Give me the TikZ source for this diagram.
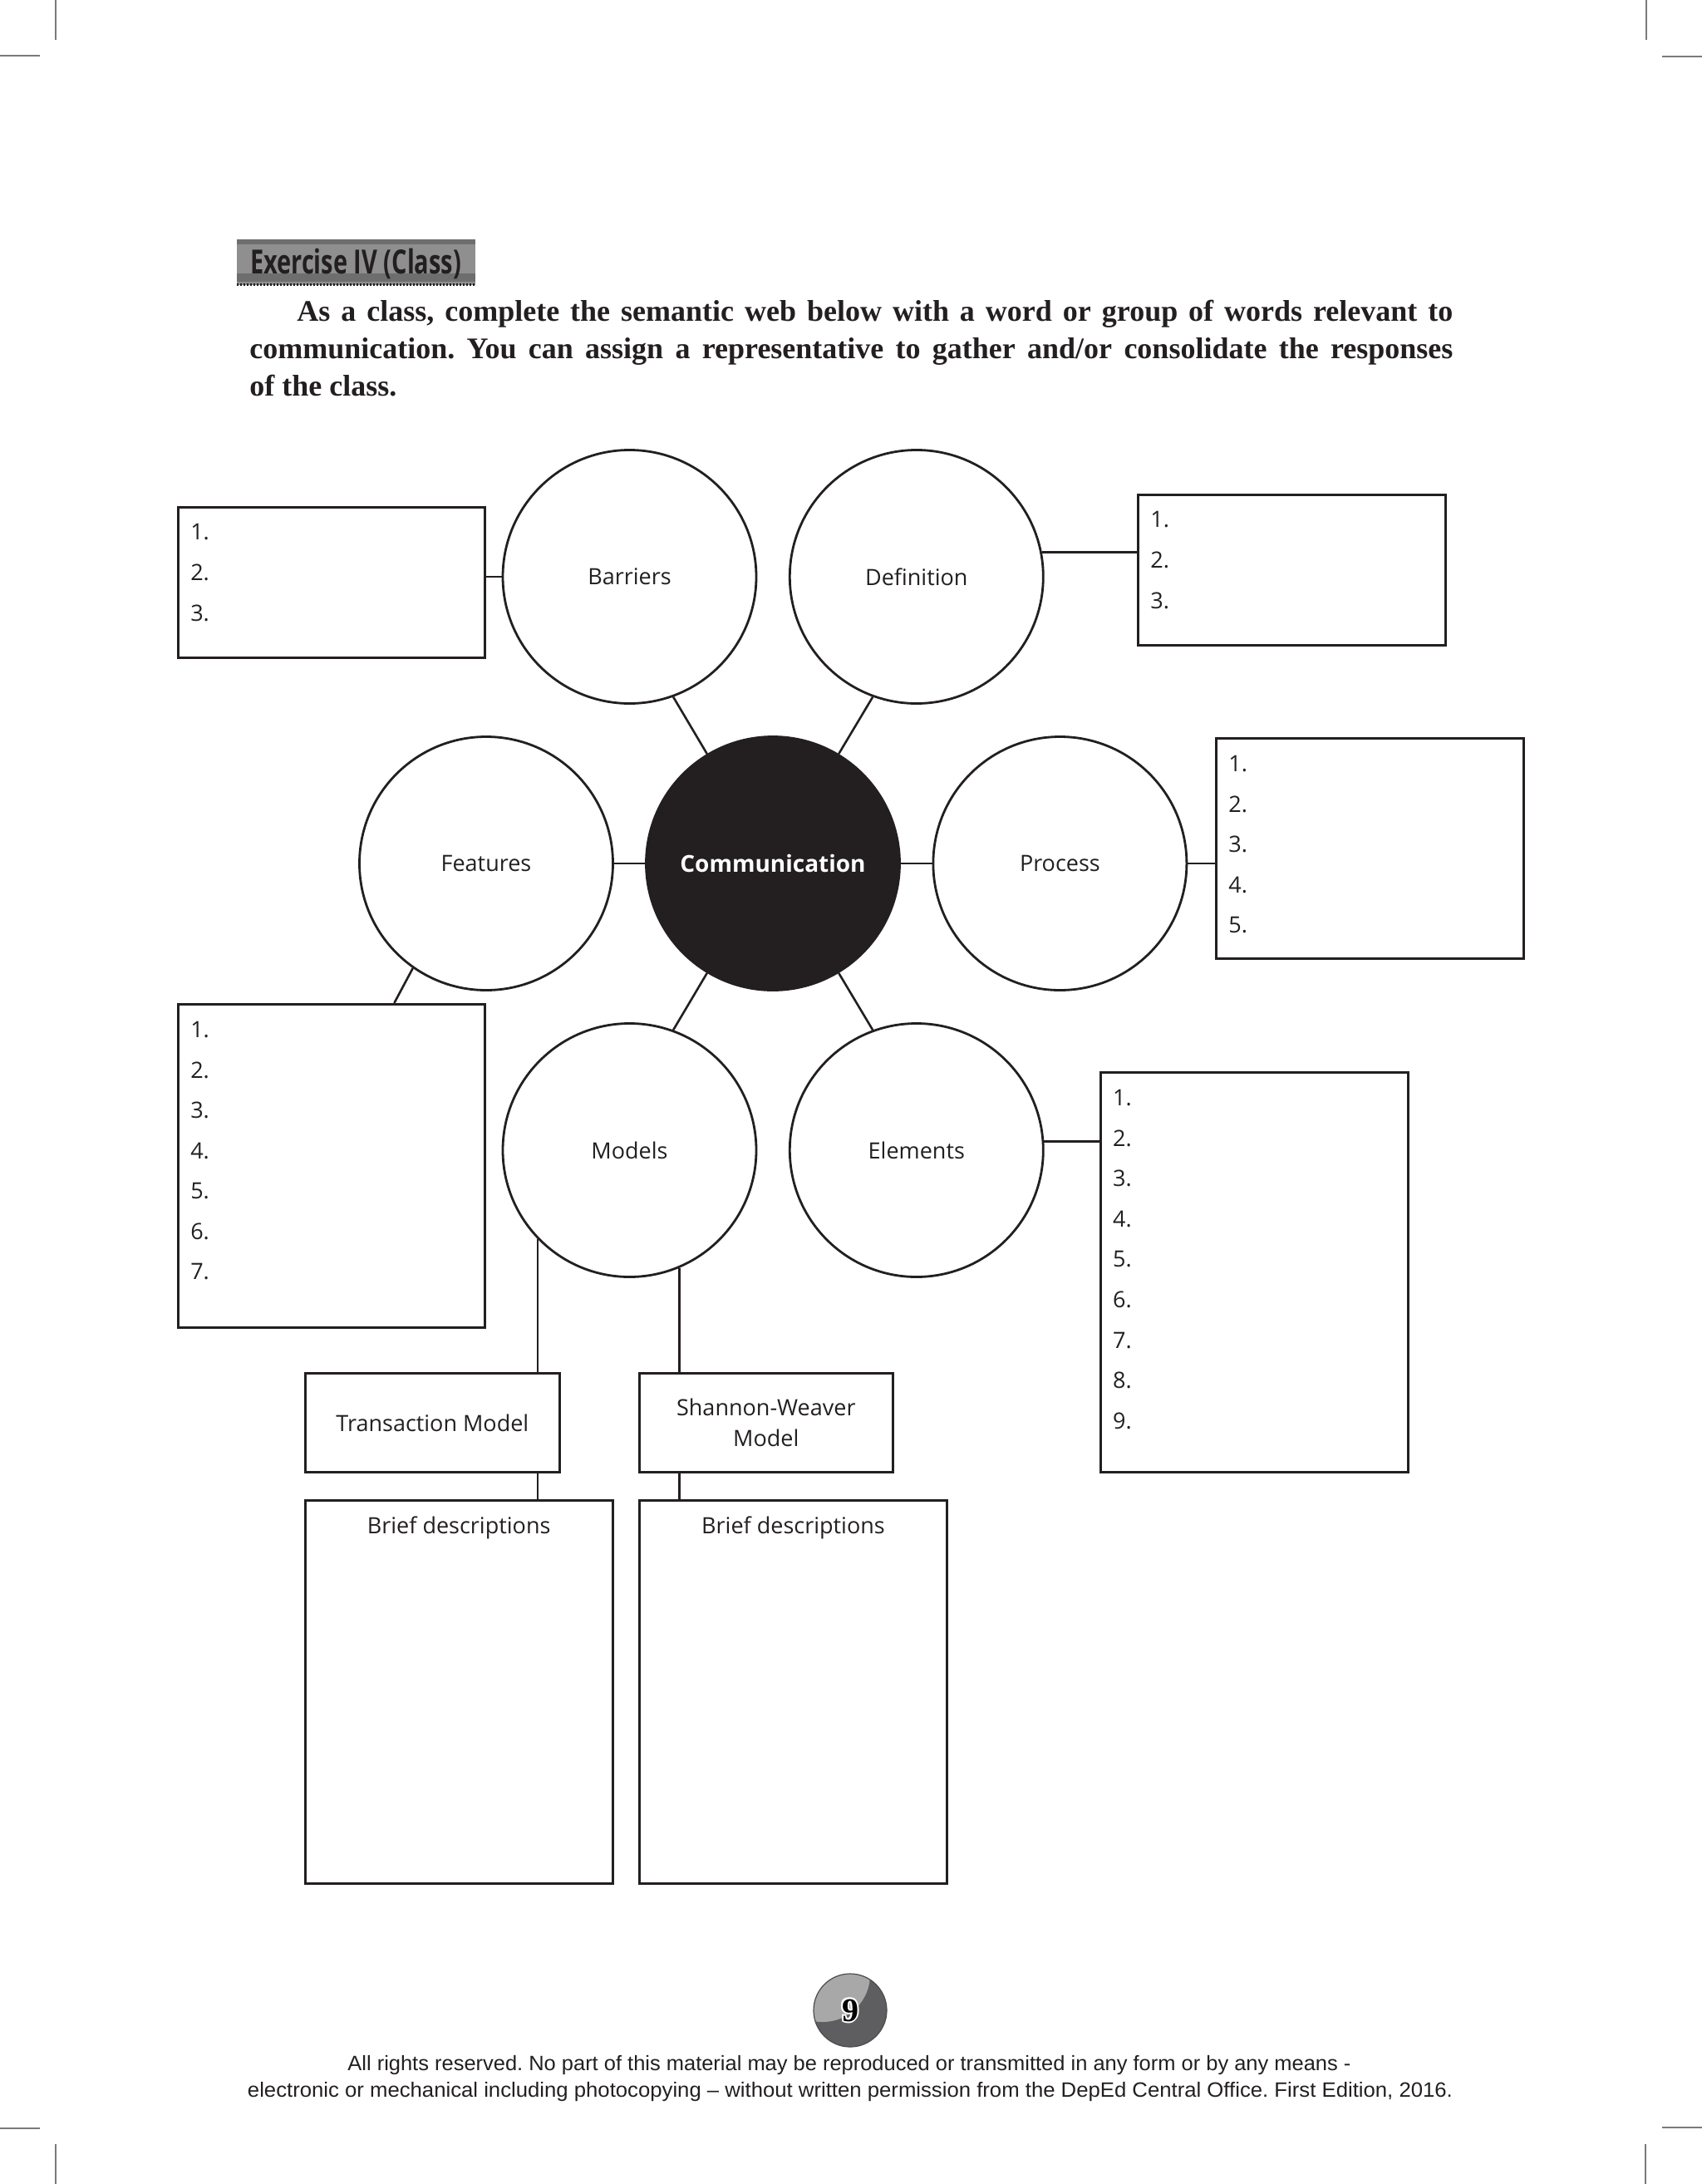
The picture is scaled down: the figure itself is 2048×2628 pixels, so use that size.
\documentclass[tikz,border=0pt]{standalone}
\usepackage{fontspec}
\usepackage{graphicx}
\setmainfont{Open Sans}
\newfontfamily\serifbody{Liberation Serif}
\newfontfamily\footfont{Liberation Sans}
\definecolor{ink}{HTML}{231F20}
\definecolor{hdrmain}{HTML}{8F8F8F}
\definecolor{hdrdark}{HTML}{6E6E6E}
\definecolor{pgdark}{HTML}{5E5E60}
\definecolor{pglight}{HTML}{A8A8A8}
\definecolor{cropc}{HTML}{7A7A7A}
\begin{document}
\frenchspacing
\begin{tikzpicture}[x=0.5pt,y=-0.5pt,
  bubble/.style={circle, draw=ink, line width=1.4pt, minimum size=152.5pt, inner sep=0pt,
                 font=\fontsize{13.5}{16}\selectfont, text=ink},
  hub/.style={bubble, fill=ink, text=white, font=\fontsize{14}{16}\selectfont\bfseries},
  box/.style={draw=ink, line width=1.5pt, rectangle, inner sep=0pt,
              font=\fontsize{13.5}{18.5}\selectfont, text=ink},
  link/.style={draw=ink, line width=1.3pt},
  num/.style={anchor=west, inner sep=0pt, font=\fontsize{13.5}{16}\selectfont, text=ink},
  lbl/.style={inner sep=0pt, font=\fontsize{13.5}{16}\selectfont, text=ink},
  bodyline/.style={anchor=base west, inner sep=0pt,
                   font=\serifbody\bfseries\fontsize{18}{22.5}\selectfont, text=ink},
  footline/.style={inner sep=0pt, font=\footfont\fontsize{12.5}{14}\selectfont, text=ink},
  crop/.style={draw=cropc, line width=1pt},
]
\useasboundingbox (0,0) rectangle (2048,2628);

% crop marks
\draw[crop] (67,0) -- (67,48);
\draw[crop] (0,67) -- (48,67);
\draw[crop] (1981,0) -- (1981,48);
\draw[crop] (2000,68) -- (2048,68);
\draw[crop] (67,2580) -- (67,2628);
\draw[crop] (0,2561) -- (48,2561);
\draw[crop] (1980,2580) -- (1980,2628);
\draw[crop] (2000,2560) -- (2048,2560);

% header
\fill[hdrmain] (285,288) rectangle (571.5,343);
\fill[hdrdark] (285,288) rectangle (571.5,294);
\fill[hdrdark] (285,329) rectangle (571.5,339);
\draw[ink, line width=1.5pt, dash pattern=on 1pt off 1pt] (285,342) -- (571.5,342);
\node[inner sep=0pt, text=ink, font=\fontsize{20}{22}\selectfont\bfseries] (hdr) at (428,317)
  {\resizebox{127pt}{\height}{Exercise IV (Class)}};

% instruction text
\node[bodyline] (p1) at (357,386)
  {\makebox[695.5pt][s]{As a class, complete the semantic web below with a word or group of words relevant to}};
\node[bodyline] (p2) at (300,431)
  {\makebox[724pt][s]{communication. You can assign a representative to gather and/or consolidate the responses}};
\node[bodyline] (p3) at (300,476) {of the class.};

% bubbles
\node[bubble] (barr) at (757.5,694) {Barriers};
\node[bubble] (defn) at (1102.8,694) {Definition};
\node[bubble] (feat) at (585,1039) {Features};
\node[hub]    (comm) at (930,1039) {Communication};
\node[bubble] (proc) at (1275.4,1039) {Process};
\node[bubble] (modl) at (757.5,1384) {Models};
\node[bubble] (elem) at (1102.8,1384) {Elements};

% boxes
\node[box, minimum width=184.5pt, minimum height=90.5pt] (bB) at (398.9,700.5) {};
\node[box, minimum width=185pt, minimum height=90.5pt] (bD) at (1554.5,685.5) {};
\node[box, minimum width=185pt, minimum height=132.3pt] (bP) at (1648.4,1020.7) {};
\node[box, minimum width=184.5pt, minimum height=194.4pt] (bF) at (398.9,1402.8) {};
\node[box, minimum width=185pt, minimum height=240.5pt] (bE) at (1509.2,1531) {};
\node[box, minimum width=153.4pt, minimum height=59.5pt] (tm) at (520.4,1712) {Transaction Model};
\node[box, minimum width=152.5pt, minimum height=59.5pt, align=center] (sw) at (921.8,1712) {Shannon-Weaver\\Model};
\node[box, minimum width=185.2pt, minimum height=230.5pt] (bd1) at (552.2,2035.5) {};
\node[box, minimum width=185.2pt, minimum height=230.5pt] (bd2) at (954.5,2035.5) {};
\node[lbl] (bdt1) at ([yshift=-17.5pt]bd1.north) {Brief descriptions};
\node[lbl] (bdt2) at ([yshift=-17.5pt]bd2.north) {Brief descriptions};

% numbered lines
\foreach \b/\n in {bB/3, bD/3, bP/5, bF/7, bE/9} {
  \foreach \i in {1,...,\n}
    \node[num] (\b-\i) at ([xshift=8pt, yshift={-16pt-(\i-1)*24.3pt}]\b.north west) {\i.};
}

% connectors
\draw[link] (feat) -- (comm);
\draw[link] (comm) -- (proc);
\draw[link] (comm.121) -- (barr.-70);
\draw[link] (comm.59) -- (defn.-110);
\draw[link] (comm.-121) -- (modl.70);
\draw[link] (comm.-59) -- (elem.110);
\draw[link] (barr.west) -- (barr.west -| bB.east);
\draw[link] (defn.11) -- (defn.11 -| bD.west);
\draw[link] (proc.east) -- (proc.east -| bP.west);
\draw[link] (elem.4) -- (elem.4 -| bE.west);
\draw[link] (feat.235) -- ([xshift=130.75pt]bF.north west);
\draw[link] (modl.224) -- (modl.224 |- tm.north);
\draw[link] (modl.-67) -- (modl.-67 |- sw.north);
\draw[link] (tm.south -| modl.224) -- (bd1.north -| modl.224);
\draw[link] (sw.south -| modl.-67) -- (bd2.north -| modl.-67);

% page number
\fill[pgdark] (1023,2419) circle (22pt);
\begin{scope}
  \clip (1023,2419) circle (22pt);
  \fill[pglight] (990,2376) circle (28.5pt);
\end{scope}
\draw[pgdark!80!black, line width=0.6pt] (1023,2419) circle (22pt);
\foreach \dx/\dy in {1/0,-1/0,0/1,0/-1,0.7/0.7,-0.7/0.7,0.7/-0.7,-0.7/-0.7}
  \node[inner sep=0pt, text=white, font=\serifbody\bfseries\fontsize{20}{20}\selectfont]
    at ([xshift=\dx pt, yshift=\dy pt]1023,2419) {9};
\node[inner sep=0pt, text=black, font=\serifbody\bfseries\fontsize{20}{20}\selectfont] (pg) at (1023,2419) {9};

% footer
\node[footline] (f1) at (1022,2485)
  {\resizebox{603.5pt}{\height}{All rights reserved. No part of this material may be reproduced or transmitted in any form or by any means -}};
\node[footline] (f2) at (1023,2517)
  {\resizebox{725pt}{\height}{electronic or mechanical including photocopying – without written permission from the DepEd Central Office. First Edition, 2016.}};
\end{tikzpicture}
\end{document}
